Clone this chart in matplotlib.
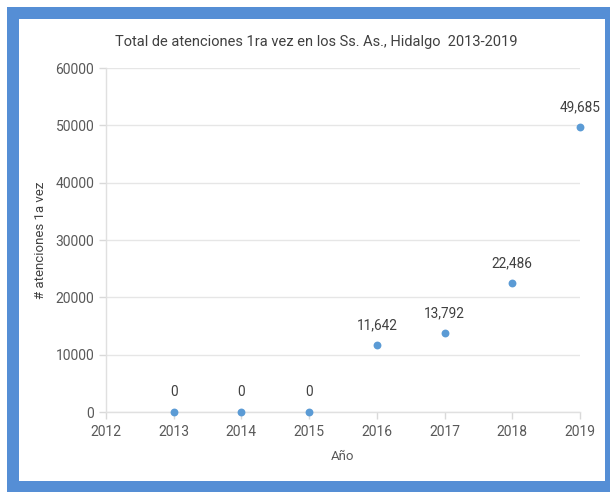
import matplotlib
matplotlib.use("Agg")
import matplotlib.pyplot as plt
from matplotlib.patches import Rectangle

years = [2013, 2014, 2015, 2016, 2017, 2018, 2019]
values = [0, 0, 0, 11642, 13792, 22486, 49685]
labels = ["0", "0", "0", "11,642", "13,792", "22,486", "49,685"]
xticks = [2012, 2013, 2014, 2015, 2016, 2017, 2018, 2019]
yticks = [0, 10000, 20000, 30000, 40000, 50000, 60000]

plt.rcParams['font.family'] = ['Roboto', 'DejaVu Sans']
txt = '#595959'

fig = plt.figure(figsize=(6.10, 4.92), dpi=100)
fig.patch.set_facecolor('white')
# blue frame
W, H = 610, 492
fig.patches.append(Rectangle((7 / W, 0), 1 - 7 / W, 1 - 7 / H, transform=fig.transFigure,
                             facecolor='#558ed5', edgecolor='none', zorder=-10))
fig.patches.append(Rectangle((19 / W, 11 / H), (605 - 19) / W, (481 - 19) / H,
                             transform=fig.transFigure, facecolor='white',
                             edgecolor='none', zorder=-9))

ax = fig.add_axes([106 / W, 1 - 412 / H, (580 - 106) / W, (412 - 68) / H])
ax.set_zorder(1)
ax.set_facecolor('none')
ax.scatter(years, values, s=32, color='#5b9bd5', zorder=3, linewidths=0, clip_on=False)
for x, y, l in zip(years, values, labels):
    ax.annotate(l, (x, y), xytext=(0, 9), textcoords='offset points',
                ha='center', va='bottom', fontsize=9.8, color='#404040')

ax.set_xlim(2012, 2019)
ax.set_ylim(0, 60000)
ax.set_xticks(xticks)
ax.set_yticks(yticks)
ax.set_xticklabels([str(t) for t in xticks])
ax.set_yticklabels([str(t) for t in yticks])
ax.grid(axis='y', color='#e6e6e6', linewidth=1)
ax.set_axisbelow(True)
for s in ['top', 'right']:
    ax.spines[s].set_visible(False)
for s in ['left', 'bottom']:
    ax.spines[s].set_color('#e0e0e0')
    ax.spines[s].set_linewidth(1)
ax.tick_params(axis='both', colors='#d9d9d9', labelcolor=txt, labelsize=10, length=5, width=1)
ax.tick_params(axis='x', pad=4)
ax.set_xlabel('Año', fontsize=9.5, color=txt, labelpad=8)
ax.set_ylabel('# atenciones 1a vez', fontsize=9.5, color='#404040', labelpad=6)
fig.text(316 / W, 1 - 42 / H, 'Total de atenciones 1ra vez en los Ss. As., Hidalgo  2013-2019',
         ha='center', va='center', fontsize=10.5, color='#404040')

fig.savefig('out.png', dpi=100)
